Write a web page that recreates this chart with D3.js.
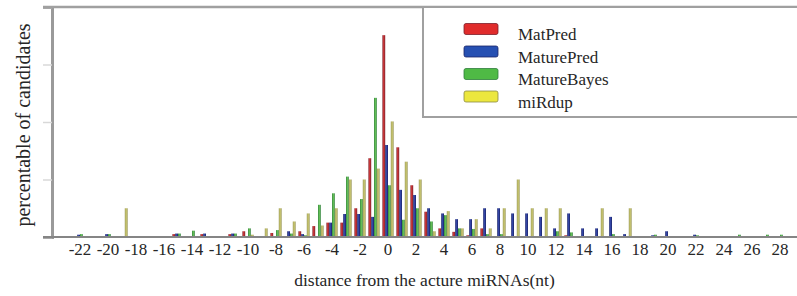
<!DOCTYPE html>
<html>
<head>
<meta charset="utf-8">
<script src="https://cdn.jsdelivr.net/npm/d3@7"></script>
<style>
  body { margin: 0; background: #fff; }
  text { font-family: "Liberation Serif", "Times New Roman", serif; fill: #262626; }
</style>
</head>
<body>
<div id="chart"></div>
<script>
// distance from the actual miRNA (nt), one band per distance
var distances = [-24, -23, -22, -21, -20, -19, -18, -17, -16, -15,
                 -14, -13, -12, -11, -10, -9, -8, -7, -6, -5,
                 -4, -3, -2, -1, 0, 1, 2, 3, 4, 5,
                 6, 7, 8, 9, 10, 11, 12, 13, 14, 15,
                 16, 17, 18, 19, 20, 21, 22, 23, 24, 25,
                 26, 27, 28, 29];

var seriesNames = ["MatPred", "MaturePred", "MatureBayes", "miRdup"];

// percentage of candidates
var matPred = [0, 0, 0, 0, 0, 0, 0, 0, 0, 0.5,
               0, 0.5, 0, 0.5, 1.0, 0, 0.7, 0, 1.0, 1.9,
               2.5, 2.5, 5.0, 13.7, 35.1, 15.6, 9.0, 4.4, 1.5, 0.9,
               0.3, 1.5, 0, 0, 0, 0, 0, 0.3, 0, 0,
               0, 0, 0, 0, 0, 0, 0, 0, 0, 0,
               0, 0, 0, 0];
var maturePred = [0, 0, 0.4, 0, 0.5, 0, 0, 0, 0, 0.6,
                  0, 0.6, 0, 0.6, 0, 0, 0, 1.0, 0.5, 0,
                  2.5, 4.0, 4.0, 3.5, 16.0, 8.2, 7.3, 5.0, 4.1, 3.1,
                  3.1, 5.0, 5.0, 4.1, 4.1, 3.5, 1.5, 4.1, 1.5, 1.5,
                  3.5, 0.5, 0, 0.3, 1.0, 0, 0.4, 0, 0, 0,
                  0, 0, 0, 0];
var matureBayes = [0, 0, 0.5, 0, 0.5, 0, 0, 0, 0, 0.6,
                   1.1, 0, 0, 0.6, 1.5, 0, 1.2, 0.6, 0.3, 5.6,
                   7.6, 10.5, 6.6, 24.2, 9.0, 3.0, 5.0, 2.7, 3.8, 1.5,
                   1.4, 0.5, 0.5, 0, 0, 0, 1.0, 0.8, 0, 0,
                   0.5, 0, 0, 0.4, 0, 0, 0.3, 0, 0, 0.4,
                   0, 0.4, 0.4, 0];
var miRdup = [0, 0, 0, 0, 0, 5.0, 0, 0, 0, 0,
              0, 0, 0, 0, 0.4, 1.5, 5.0, 2.7, 4.1, 2.0,
              5.0, 10.0, 10.0, 11.9, 20.1, 13.1, 10.0, 1.0, 4.5, 1.5,
              3.1, 1.5, 5.0, 10.0, 5.0, 5.0, 5.0, 0, 0, 5.0,
              0, 5.0, 0, 0, 0, 0, 0, 0, 0, 0,
              0, 0, 0, 0];

var xTickLabels = [-22, -20, -18, -16, -14, -12, -10, -8, -6, -4, -2, 0, 2,
                   4, 6, 8, 10, 12, 14, 16, 18, 20, 22, 24, 26, 28];
var yTicks = [0, 10, 20, 30, 40];

// colours: bar [dark edge, light centre], legend swatch
var barColors = [["#7c1e2a", "#d23a3a"], ["#1a2468", "#3446a8"], ["#2f7e3c", "#6cc85a"], ["#8c8a44", "#d6d47e"]];
var legendColors = ["#e02c2c", "#2650b2", "#4fba45", "#ece73e"];

var svgWidth = 797;
var svgHeight = 296;
var plot = { left: 52, top: 7, right: 797, bottom: 237 };

var svg = d3.select("#chart").append("svg")
    .attr("width", svgWidth)
    .attr("height", svgHeight);

var defs = svg.append("defs");
barColors.forEach(function (c, i) {
    var g = defs.append("linearGradient").attr("id", "bar" + i)
        .attr("x1", "0").attr("x2", "1").attr("y1", "0").attr("y2", "0");
    g.append("stop").attr("offset", "0%").attr("stop-color", c[0]);
    g.append("stop").attr("offset", "45%").attr("stop-color", c[1]);
    g.append("stop").attr("offset", "100%").attr("stop-color", c[0]);
});

// scales
var x = d3.scaleBand()
    .domain(distances)
    .range([plot.left - 7, plot.left - 7 + distances.length * 14]);

var xSub = d3.scaleBand()
    .domain(seriesNames)
    .range([0, x.bandwidth()])
    .paddingOuter(0.5);

var y = d3.scaleLinear()
    .domain([0, 40])
    .range([plot.bottom, plot.top]);

// y axis: ticks only, no labels
var yAxis = svg.append("g")
    .attr("transform", `translate(${plot.left}, 0)`)
    .call(d3.axisLeft(y).tickValues(yTicks).tickSize(9).tickFormat(""));
yAxis.select(".domain").attr("stroke", "#9a9a9a").attr("stroke-width", 3);
yAxis.selectAll(".tick line").attr("stroke", "#d8d8d8").attr("stroke-width", 1.5);

// top frame line
svg.append("line")
    .attr("x1", plot.left - 9).attr("x2", plot.right)
    .attr("y1", y(40)).attr("y2", y(40))
    .attr("stroke", "#a0a0a0").attr("stroke-width", 2.5);

// bars
var allSeries = [matPred, maturePred, matureBayes, miRdup];
allSeries.forEach(function (values, i) {
    svg.append("g").selectAll("rect")
        .data(distances.map(function (d, k) { return { d: d, v: values[k] }; })
            .filter(function (p) { return p.v > 0; }))
        .enter()
        .append("rect")
        .attr("x", p => x(p.d) + xSub(seriesNames[i]))
        .attr("width", xSub.bandwidth())
        .attr("y", p => y(p.v))
        .attr("height", p => y(0) - y(p.v))
        .attr("fill", "url(#bar" + i + ")");
});

// baseline
svg.append("line")
    .attr("x1", plot.left - 9).attr("x2", plot.right)
    .attr("y1", y(0)).attr("y2", y(0))
    .attr("stroke", "#858585").attr("stroke-width", 2);

// x axis labels
var xAxis = svg.append("g")
    .attr("transform", `translate(0, ${plot.bottom})`)
    .call(d3.axisBottom(x).tickValues(xTickLabels).tickSize(0).tickPadding(6)
        .tickFormat(d => String(d)));
xAxis.select(".domain").remove();
xAxis.selectAll("text")
    .style("font-family", '"Liberation Serif", serif')
    .style("font-size", "17px")
    .attr("fill", "#262626");

// axis titles
svg.append("text")
    .attr("transform", `translate(30, ${(plot.top + plot.bottom) / 2 + 3}) rotate(-90)`)
    .attr("text-anchor", "middle")
    .style("font-size", "20px")
    .text("percentable of candidates");

svg.append("text")
    .attr("x", (plot.left + plot.right) / 2)
    .attr("y", 286)
    .attr("text-anchor", "middle")
    .style("font-size", "17.5px")
    .text("distance from the acture miRNAs(nt)");

// legend
var legend = svg.append("g");
legend.append("rect")
    .attr("x", 423).attr("y", plot.top)
    .attr("width", 400).attr("height", 110)
    .attr("fill", "#fff")
    .attr("stroke", "#a0a0a0").attr("stroke-width", 2);

var legendY = d3.scalePoint().domain(seriesNames).range([29, 96.5]);

legend.selectAll(".swatch")
    .data(seriesNames)
    .enter()
    .append("rect")
    .attr("class", "swatch")
    .attr("x", 464).attr("width", 34)
    .attr("y", d => legendY(d) - 5.5).attr("height", 11)
    .attr("rx", 2)
    .attr("fill", (d, i) => legendColors[i])
    .attr("stroke", (d, i) => barColors[i][0])
    .attr("stroke-width", 0.8);

legend.selectAll(".label")
    .data(seriesNames)
    .enter()
    .append("text")
    .attr("class", "label")
    .attr("x", 518)
    .attr("y", d => legendY(d) + 11)
    .style("font-size", "17px")
    .text(d => d);
</script>
</body>
</html>
